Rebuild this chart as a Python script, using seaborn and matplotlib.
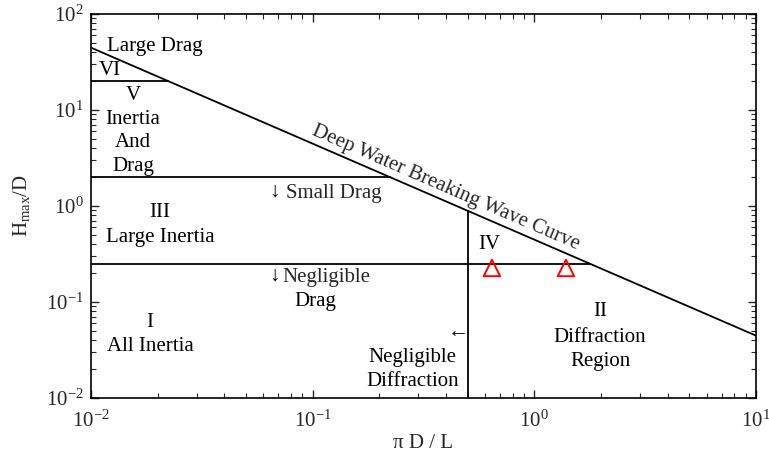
import numpy as np
import pandas as pd
import matplotlib
matplotlib.use("Agg")
import matplotlib.pyplot as plt
import seaborn as sns

# Deep water breaking limit: H/L = 0.142  ->  H/D = 0.142*pi / (pi D / L)
breaking_x = [0.01, 10.0]
breaking_y = [0.142 * np.pi / v for v in breaking_x]

# Region boundaries (H/D levels and the pi D / L = 0.5 diffraction limit)
drag_levels = [20.0, 2.0, 0.25]
diffraction_limit = 0.5

# Measured cases
case_x = [0.644, 1.39]
case_y = [0.226, 0.226]

sns.set_theme(style="ticks")
plt.rcParams["font.family"] = ["Liberation Serif", "DejaVu Serif"]
plt.rcParams["mathtext.fontset"] = "custom"
plt.rcParams["mathtext.rm"] = "Liberation Serif"
plt.rcParams["mathtext.it"] = "Liberation Serif:italic"

fig = plt.figure(figsize=(7.69, 4.59), dpi=100)
ax = fig.add_axes([0.1183, 0.133, 0.8647, 0.8365])
ax.set_xscale("log")
ax.set_yscale("log")
ax.set_xlim(1e-2, 1e1)
ax.set_ylim(1e-2, 1e2)

def curve_x(h):
    return 0.142 * np.pi / h

segs = []
segs.append(pd.DataFrame({"x": breaking_x, "y": breaking_y, "seg": "curve"}))
for i, h in enumerate(drag_levels):
    segs.append(pd.DataFrame({"x": [0.01, curve_x(h)], "y": [h, h], "seg": f"h{i}"}))
segs.append(pd.DataFrame({"x": [diffraction_limit, diffraction_limit],
                          "y": [0.01, 0.142 * np.pi / diffraction_limit], "seg": "v"}))
lines = pd.concat(segs, ignore_index=True)
sns.lineplot(data=lines, x="x", y="y", units="seg", estimator=None, sort=False,
             color="black", linewidth=1.3, ax=ax, legend=False)

cases = pd.DataFrame({"x": case_x, "y": case_y})
sns.scatterplot(data=cases, x="x", y="y", marker="^", s=140, facecolors="none",
                edgecolor="red", linewidth=1.4, ax=ax, legend=False, zorder=5)

fs = 15
txt = dict(fontsize=fs, ha="center", va="center", color="black")
ax.text(0.0195, 46, "Large Drag", **txt)
ax.text(0.0122, 26, "VI", **txt)
ax.text(0.0155, 14.3, "V", **txt)
ax.text(0.0155, 7.87, "Inertia", **txt)
ax.text(0.0155, 4.53, "And", **txt)
ax.text(0.0155, 2.55, "Drag", **txt)
ax.text(0.0676, 1.40, "\u2193", **txt)
ax.text(0.0760, 1.36, "Small Drag", fontsize=fs, ha="left", va="center")
ax.text(0.0205, 0.845, "III", **txt)
ax.text(0.0205, 0.464, "Large Inertia", **txt)
ax.text(0.0676, 0.186, "\u2193", **txt)
ax.text(0.0734, 0.182, "Negligible", fontsize=fs, ha="left", va="center")
ax.text(0.103, 0.100, "Drag", **txt)
ax.text(0.01845, 0.0604, "I", **txt)
ax.text(0.01845, 0.034, "All Inertia", **txt)
ax.text(0.452, 0.0475, "\u2190", **txt)
ax.text(0.283, 0.0267, "Negligible", **txt)
ax.text(0.283, 0.0150, "Diffraction", **txt)
ax.text(0.63, 0.393, "IV", **txt)
ax.text(1.98, 0.0787, "II", **txt)
ax.text(1.98, 0.0431, "Diffraction", **txt)
ax.text(1.98, 0.0237, "Region", **txt)

# Label along the breaking curve, rotated to the on-screen slope
p0 = ax.transData.transform((breaking_x[0], breaking_y[0]))
p1 = ax.transData.transform((breaking_x[1], breaking_y[1]))
ang = np.degrees(np.arctan2(p1[1] - p0[1], p1[0] - p0[0]))
ax.text(0.40, 1.54, "Deep Water Breaking Wave Curve", fontsize=fs,
        ha="center", va="center", rotation=ang, rotation_mode="anchor")

ax.set_xlabel("\u03c0 D / L", fontsize=fs, labelpad=2)
ax.set_ylabel("H$_{\\mathrm{max}}$/D", fontsize=fs, labelpad=10)
ax.tick_params(which="both", direction="in", top=True, right=True, labelsize=fs)
ax.tick_params(axis="x", which="major", pad=9)
ax.tick_params(axis="y", which="major", pad=5)
ax.tick_params(which="major", length=6, width=1)
ax.tick_params(which="minor", length=3.5, width=0.8)
for s in ax.spines.values():
    s.set_linewidth(1.2)
    s.set_color("black")

fig.savefig("out.png", dpi=100)
